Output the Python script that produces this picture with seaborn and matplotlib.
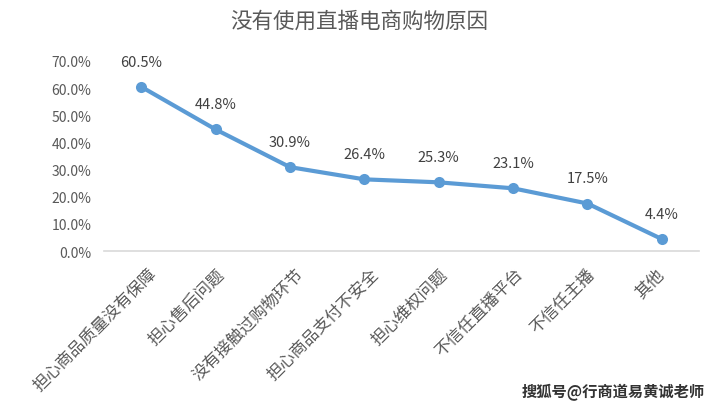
import matplotlib
matplotlib.use("Agg")
import matplotlib.pyplot as plt
import matplotlib.transforms as mtransforms
import seaborn as sns
import pandas as pd
from matplotlib.ticker import FuncFormatter

categories = ["担心商品质量没有保障", "担心售后问题", "没有接触过购物环节", "担心商品支付不安全",
              "担心维权问题", "不信任直播平台", "不信任主播", "其他"]
values = [60.5, 44.8, 30.9, 26.4, 25.3, 23.1, 17.5, 4.4]
y_ticks = [0, 10, 20, 30, 40, 50, 60, 70]
title = "没有使用直播电商购物原因"
watermark = "搜狐号@行商道易黄诚老师"

sns.set_style("white")
plt.rcParams['font.family'] = ['Noto Sans CJK SC', 'DejaVu Sans']

df = pd.DataFrame({"cat": categories, "val": values})
df["pos"] = range(len(df))

fig = plt.figure(figsize=(7.19, 4.10), dpi=100)
ax = fig.add_axes([104/719, 1-252/410, (699-104)/719, (252-62)/410])

color = "#5B9BD5"
sns.lineplot(data=df, x="pos", y="val", ax=ax, color=color, linewidth=3,
             marker="o", markersize=8, markeredgecolor=color, markeredgewidth=0)

for x, v in zip(df["pos"], df["val"]):
    ax.annotate(f"{v:.1f}%", (x, v), xytext=(0, 13), textcoords="offset points",
                ha="center", va="bottom", fontsize=10.5, color="#404040")

ax.set_xlim(-0.5, len(categories) - 0.5)
ax.set_ylim(0, 70)
ax.set_yticks(y_ticks)
ax.yaxis.set_major_formatter(FuncFormatter(lambda v, p: f"{v:.1f}%"))
ax.set_xticks(df["pos"])
ax.set_xticklabels([])
ax.tick_params(axis="y", labelsize=10, labelcolor="#595959", length=0, pad=9)
ax.tick_params(axis="x", length=0)

# rotated category labels, anchored at right-end centre below each tick
xform = mtransforms.blended_transform_factory(ax.transData, ax.transAxes)
for x, lab in zip(df["pos"], df["cat"]):
    shift = 1.6 * (len(lab) - 2) / 100.0
    off = mtransforms.ScaledTranslation(shift, -0.20, fig.dpi_scale_trans)
    ax.text(x, 0, lab, transform=xform + off, rotation=45, ha="right", va="center",
            rotation_mode="anchor", fontsize=12, color="#595959")

ax.set_xlabel("")
ax.set_ylabel("")
for s in ["top", "right", "left"]:
    ax.spines[s].set_visible(False)
ax.spines["bottom"].set_color("#D9D9D9")
ax.spines["bottom"].set_linewidth(1.2)
ax.grid(False)

fig.text(0.5, 1 - 22/410, title, ha="center", va="center", fontsize=15.5, color="#595959")
fig.text(705/719, 1 - 392/410, watermark, ha="right", va="center", fontsize=11,
         color="#333333", fontweight="bold")

fig.savefig("out.png", dpi=100)
